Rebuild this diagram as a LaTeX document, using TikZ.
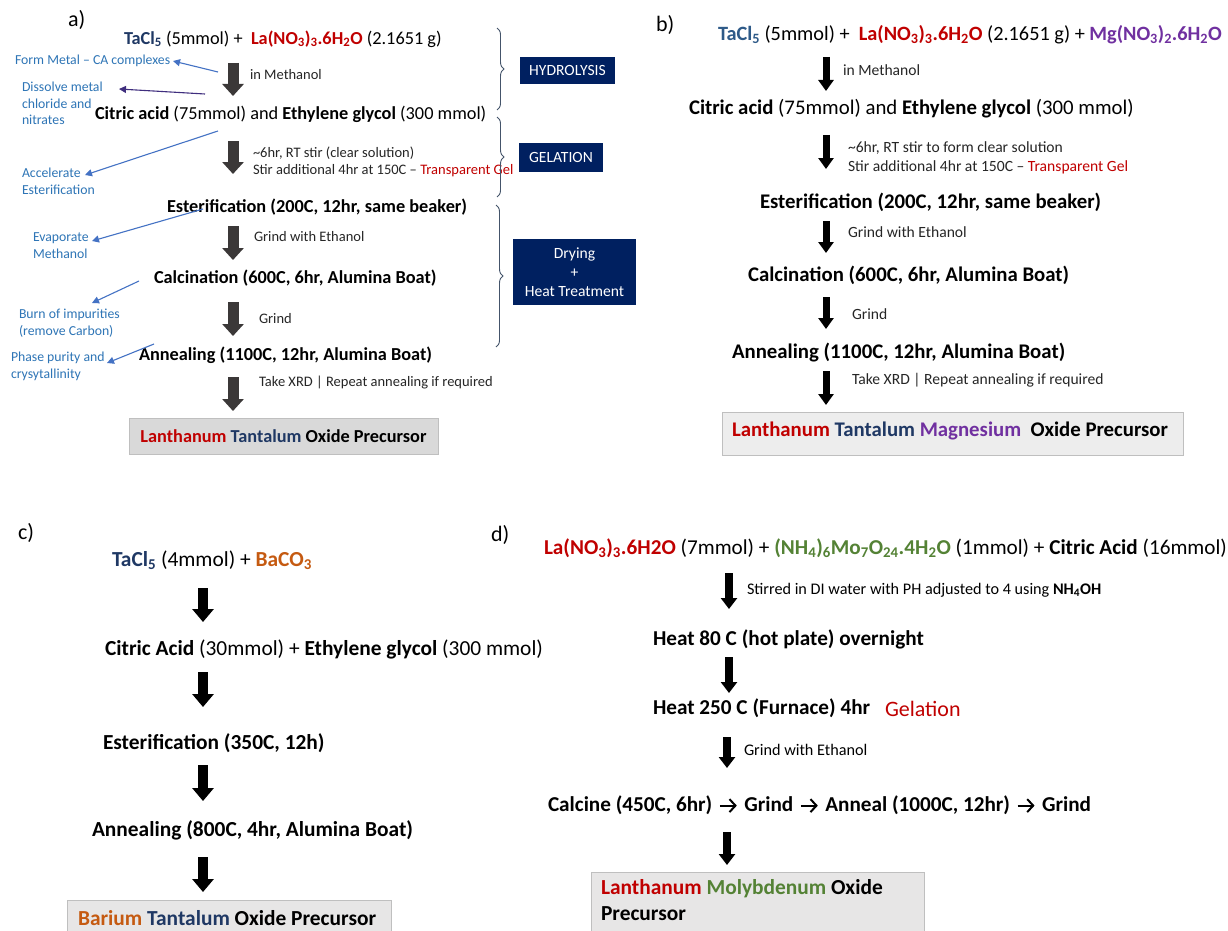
\documentclass[tikz,border=0pt]{standalone}
\usepackage{fontspec}
\setmainfont{Carlito}
\usetikzlibrary{arrows.meta,decorations.pathreplacing}
\definecolor{navyT}{HTML}{1F3864}
\definecolor{steelT}{HTML}{2E5A88}
\definecolor{redL}{HTML}{C00000}
\definecolor{purpM}{HTML}{7030A0}
\definecolor{greenM}{HTML}{548235}
\definecolor{orangeB}{HTML}{C55A11}
\definecolor{noteblue}{HTML}{2E75B6}
\definecolor{arrowblue}{HTML}{4472C4}
\definecolor{arrowpurp}{HTML}{3F2E7E}
\definecolor{boxnavy}{HTML}{002060}
\definecolor{bracegray}{HTML}{44546A}
\definecolor{arrgray}{HTML}{3B3838}
\definecolor{boxA}{HTML}{D9D9D9}
\definecolor{boxB}{HTML}{EDEDED}
\definecolor{boxC}{HTML}{E7E6E6}
\newcommand{\sbs}[1]{\textsubscript{#1}}
\newcommand{\rarr}{\hspace{6.5pt}\tikz[baseline=-0.55ex]{\draw[line width=2pt, -{Straight Barb[length=6pt,width=13pt,line width=2pt]}] (0pt,0pt) -- (17pt,0pt);}\hspace{6.5pt}}
\begin{document}
\begin{tikzpicture}[x=1pt,y=-1pt,
  every node/.style={inner sep=0pt, outer sep=0pt},
  txtA/.style={anchor=west, font=\fontsize{18.3}{22}\selectfont},
  lblA/.style={anchor=west, font=\fontsize{14.5}{17}\selectfont, text=black!85},
  note/.style={anchor=north west, align=left, text=noteblue, font=\fontsize{13.75}{16.7}\selectfont},
  txtB/.style={anchor=west, font=\fontsize{20.8}{24}\selectfont},
  lblB/.style={anchor=west, font=\fontsize{15.6}{18}\selectfont, text=black!85},
  txtC/.style={anchor=west, font=\fontsize{21.4}{25}\selectfont},
  txtD/.style={anchor=west, font=\fontsize{21.2}{25}\selectfont},
  lblD/.style={anchor=west, font=\fontsize{16.2}{19}\selectfont},
  panel/.style={anchor=west, font=\fontsize{22}{26}\selectfont},
  arrA/.style={line width=11pt, draw=arrgray, -{Triangle[width=21pt,length=12pt]}},
  arrB/.style={line width=7pt, draw=black, -{Triangle[width=15pt,length=11pt]}},
  arrC/.style={line width=9.5pt, draw=black, -{Triangle[width=21pt,length=13pt]}},
  arrD/.style={line width=7.5pt, draw=black, -{Triangle[width=16pt,length=11pt]}},
  notearr/.style={draw=arrowblue, line width=1.1pt, -{Triangle[width=7pt,length=7pt]}},
  brc/.style={draw=bracegray, line width=0.9pt, decorate, decoration={brace, amplitude=7pt}},
  stage/.style={fill=boxnavy, text=white, font=\fontsize{15.6}{19}\selectfont, align=center},
  prodbox/.style={draw=black!25, line width=0.8pt}
]
\useasboundingbox (0,0) rectangle (1228,931);
\fill[white] (0,0) rectangle (1228,931);

%% ---------------- panel a ----------------
\node[panel] (pa) at (68,20) {a)};
\node[txtA] (a1) at (124,39) {\textbf{\color{navyT}TaCl\sbs{5}} (5mmol) + \ \textbf{\color{redL}La(NO\sbs{3})\sbs{3}.6H\sbs{2}O} (2.1651 g)};
\node[txtA] (a2) at (95,114) {\textbf{Citric acid} (75mmol) and \textbf{Ethylene glycol} (300 mmol)};
\node[txtA] (a3) at (167,207) {\textbf{Esterification (200C, 12hr, same beaker)}};
\node[txtA] (a4) at (154,278) {\textbf{Calcination (600C, 6hr, Alumina Boat)}};
\node[txtA] (a5) at (139,355) {\textbf{Annealing (1100C, 12hr, Alumina Boat)}};
\node[prodbox, fill=boxA, minimum width=309pt, minimum height=36pt, font=\fontsize{18.3}{22}\selectfont\bfseries] (aprod) at (283.5,436)
  {\color{redL}Lanthanum \color{navyT}Tantalum \color{black}Oxide Precursor};

\node[lblA] (la1) at (250,75) {in Methanol};
\node[lblA] (la2) at (253,153) {\textasciitilde6hr, RT stir (clear solution)};
\node[lblA] (la2b) at (253,171) {Stir additional 4hr at 150C -- \textcolor{redL}{Transparent Gel}};
\node[lblA] (la3) at (254,237) {Grind with Ethanol};
\node[lblA] (la4) at (259,319) {Grind};
\node[lblA] (la5) at (259,383) {Take XRD | Repeat annealing if required};

\foreach \i/\ys/\ye in {1/63/96, 2/141/174, 3/226/260, 4/302/336, 5/377/411}{
  \coordinate (pas\i) at (233,\ys);
  \coordinate (pae\i) at (233,\ye);
  \draw[arrA] (pas\i) -- (pae\i);
}

% notes
\node[note, anchor=west] (n1) at (15,61) {Form Metal -- CA complexes};
\node[note] (n2) at (22,82) {Dissolve metal\\chloride and\\nitrates};
\node[note] (n3) at (22,168) {Accelerate\\Esterification};
\node[note] (n4) at (33,233) {Evaporate\\Methanol};
\node[note] (n5) at (19,309) {Burn of impurities\\(remove Carbon)};
\node[note] (n6) at (11,352) {Phase purity and\\crysytallinity};

\coordinate (t1) at (218,72);  \coordinate (h1) at (173,61);
\coordinate (t2) at (205,94);  \coordinate (h2) at (119,89);
\coordinate (t3) at (218,131); \coordinate (h3) at (85,175);
\coordinate (t4) at (203,209); \coordinate (h4) at (92,241);
\coordinate (t5) at (139,281); \coordinate (h5) at (92,303);
\coordinate (t6) at (154,344); \coordinate (h6) at (107,363);
\draw[notearr] (t1) -- (h1);
\draw[notearr, draw=arrowpurp] (t2) -- (h2);
\draw[notearr] (t3) -- (h3);
\draw[notearr] (t4) -- (h4);
\draw[notearr] (t5) -- (h5);
\draw[notearr] (t6) -- (h6);

% braces and stage boxes
\coordinate (b1t) at (497,28);  \coordinate (b1b) at (497,110);
\coordinate (b2t) at (497,117); \coordinate (b2b) at (497,197);
\coordinate (b3t) at (496,205); \coordinate (b3b) at (496,347);
\draw[brc] (b1t) -- (b1b);
\draw[brc] (b2t) -- (b2b);
\draw[brc] (b3t) -- (b3b);
\node[stage, minimum width=95pt, minimum height=27pt] (hyd) at (567.5,70.5) {HYDROLYSIS};
\node[stage, minimum width=84pt, minimum height=29pt] (gel) at (561,157.5) {GELATION};
\node[stage, minimum width=123pt, minimum height=66pt] (dry) at (574.5,272) {Drying\\+\\Heat Treatment};

%% ---------------- panel b ----------------
\node[panel] (pb) at (656,25) {b)};
\node[txtB, font=\fontsize{20.3}{24}\selectfont] (b1) at (718,35) {\textbf{\color{steelT}TaCl\sbs{5}} (5mmol) + \ \textbf{\color{redL}La(NO\sbs{3})\sbs{3}.6H\sbs{2}O} (2.1651 g) + \textbf{\color{purpM}Mg(NO\sbs{3})\sbs{2}.6H\sbs{2}O}};
\node[txtB] (b2) at (689,109) {\textbf{Citric acid} (75mmol) and \textbf{Ethylene glycol} (300 mmol)};
\node[txtB] (b3) at (760,202) {\textbf{Esterification (200C, 12hr, same beaker)}};
\node[txtB] (b4) at (748,275) {\textbf{Calcination (600C, 6hr, Alumina Boat)}};
\node[txtB] (b5) at (732,353) {\textbf{Annealing (1100C, 12hr, Alumina Boat)}};
\node[prodbox, fill=boxB, minimum width=461pt, minimum height=43pt] (bprod) at (952.5,433.5) {};
\node[txtB, font=\fontsize{20.8}{24}\selectfont\bfseries] (bprodt) at (732,431)
  {\color{redL}Lanthanum \color{navyT}Tantalum \color{purpM}Magnesium \ \color{black}Oxide Precursor};

\node[lblB] (lb1) at (843,70) {in Methanol};
\node[lblB] (lb2) at (848,148) {\textasciitilde6hr, RT stir to form clear solution};
\node[lblB] (lb2b) at (848,167) {Stir additional 4hr at 150C -- \textcolor{redL}{Transparent Gel}};
\node[lblB] (lb3) at (848,232) {Grind with Ethanol};
\node[lblB] (lb4) at (852,314) {Grind};
\node[lblB] (lb5) at (852,380) {Take XRD | Repeat annealing if required};

\foreach \i/\ys/\ye in {1/57/91, 2/135/169, 3/221/253, 4/297/329, 5/371/405}{
  \coordinate (pbs\i) at (826,\ys);
  \coordinate (pbe\i) at (826,\ye);
  \draw[arrB] (pbs\i) -- (pbe\i);
}

%% ---------------- panel c ----------------
\node[panel] (pc) at (18,533) {c)};
\node[txtC] (c1) at (112,560) {\textbf{\color{navyT}TaCl\sbs{5}} (4mmol) + \textbf{\color{orangeB}BaCO\sbs{3}}};
\node[txtC] (c2) at (105,649) {\textbf{Citric Acid} (30mmol) + \textbf{Ethylene glycol} (300 mmol)};
\node[txtC] (c3) at (103,743) {\textbf{Esterification (350C, 12h)}};
\node[txtC] (c4) at (92,830) {\textbf{Annealing (800C, 4hr, Alumina Boat)}};
\node[prodbox, fill=boxC, minimum width=324pt, minimum height=44pt] (cprod) at (229,922) {};
\node[txtC, font=\fontsize{21.4}{25}\selectfont\bfseries] (cprodt) at (78,918)
  {\color{orangeB}Barium \color{navyT}Tantalum \color{black}Oxide Precursor};

\foreach \i/\ys/\ye in {1/588/622, 2/672/707, 3/765/801, 4/857/892}{
  \coordinate (pcs\i) at (203,\ys);
  \coordinate (pce\i) at (203,\ye);
  \draw[arrC] (pcs\i) -- (pce\i);
}

%% ---------------- panel d ----------------
\node[panel] (pd) at (491,535) {d)};
\node[txtD] (d1) at (544,548) {\textbf{\color{redL}La(NO\sbs{3})\sbs{3}.6H2O} (7mmol) + \textbf{\color{greenM}(NH\sbs{4})\sbs{6}Mo\sbs{7}O\sbs{24}.4H\sbs{2}O} (1mmol) + \textbf{Citric Acid} (16mmol)};
\node[lblD] (ld1) at (747,590) {Stirred in DI water with PH adjusted to 4 using \textbf{NH\sbs{4}OH}};
\node[txtD] (d2) at (653,639) {\textbf{Heat 80 C (hot plate) overnight}};
\node[txtD] (d3) at (653,708) {\textbf{Heat 250 C (Furnace) 4hr}};
\node[anchor=west, font=\fontsize{22}{26}\selectfont, text=redL] (d3g) at (885,709) {Gelation};
\node[lblD] (ld3) at (744,750) {Grind with Ethanol};
\node[txtD] (d4) at (548,805) {\textbf{Calcine (450C, 6hr)\rarr Grind\rarr Anneal (1000C, 12hr)\rarr Grind}};
\node[prodbox, fill=boxC, minimum width=333pt, minimum height=70pt] (dprod) at (757.5,907) {};
\node[txtD, anchor=north west, align=left, font=\fontsize{21.4}{26}\selectfont\bfseries] (dprodt) at (601,879)
  {\color{redL}Lanthanum \color{greenM}Molybdenum \color{black}Oxide\\Precursor};

\foreach \i/\x/\ys/\ye in {1/729/573/609, 2/729/657/693, 3/727/737/768, 4/727/832/865}{
  \coordinate (pds\i) at (\x,\ys);
  \coordinate (pde\i) at (\x,\ye);
  \draw[arrD] (pds\i) -- (pde\i);
}
\end{tikzpicture}
\end{document}
